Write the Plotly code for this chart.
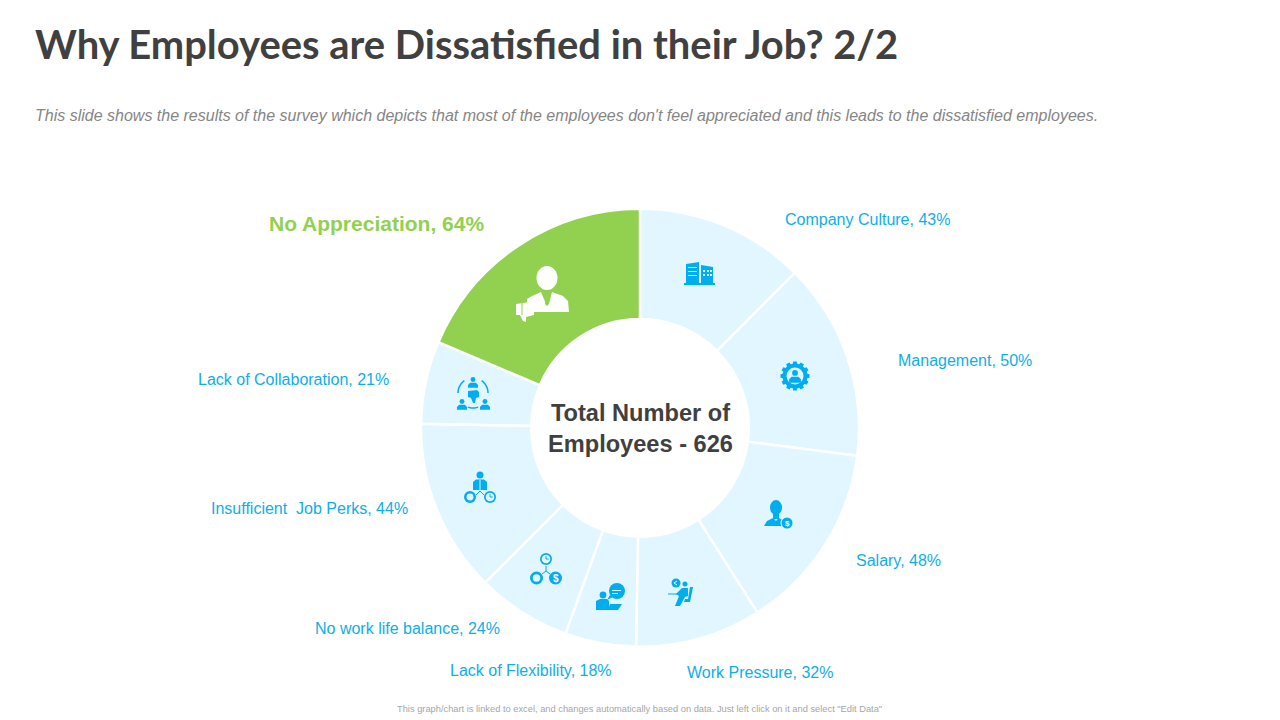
import math
import plotly.graph_objects as go

# survey results, clockwise from 12 o'clock
reasons = ['Company Culture', 'Management', 'Salary', 'Work Pressure', 'Lack of Flexibility',
           'No work life balance', 'Insufficient  Job Perks', 'Lack of Collaboration', 'No Appreciation']
percents = [43, 50, 48, 32, 18, 24, 44, 21, 64]
slice_colors = ['#E1F6FF'] * 8 + ['#92D14F']

title = 'Why Employees are Dissatisfied in their Job? 2/2'
subtitle = ("This slide shows the results of the survey which depicts that most of the employees "
            "don't feel appreciated and this leads to the dissatisfied employees.")
footnote = 'This graph/chart is linked to excel, and changes automatically based on data. Just left click on it and select "Edit Data"'
center_text = '<b>Total Number of<br>Employees - 626</b>'

# label centres in pixels
label_x = [867, 965, 898, 760, 531, 407, 309, 293, 376]
label_y = [219, 360, 560, 672, 670, 628, 508, 379, 223]

W, H = 1280, 720
BLUE = '#00ADEF'
PALE = '#E1F6FF'
GREEN = '#92D14F'
shapes = []
icon_text = []


def px(x):
    return x / W


def py(y):
    return 1 - y / H


def poly(points, color):
    path = 'M ' + ' L '.join(f'{px(x):.5f},{py(y):.5f}' for x, y in points) + ' Z'
    shapes.append(dict(type='path', xref='paper', yref='paper', path=path,
                       fillcolor=color, line=dict(width=0)))


def rect(x0, y0, x1, y1, color):
    poly([(x0, y0), (x1, y0), (x1, y1), (x0, y1)], color)


def ellipse(cx, cy, rx, ry, color):
    shapes.append(dict(type='circle', xref='paper', yref='paper',
                       x0=px(cx - rx), x1=px(cx + rx), y0=py(cy + ry), y1=py(cy - ry),
                       fillcolor=color, line=dict(width=0)))


def circle(cx, cy, r, color):
    ellipse(cx, cy, r, r, color)


def line(x0, y0, x1, y1, color, w=1):
    shapes.append(dict(type='line', xref='paper', yref='paper', x0=px(x0), y0=py(y0),
                       x1=px(x1), y1=py(y1), line=dict(color=color, width=w)))


def arc(cx, cy, r, a0, a1, color, w=1.5):
    # angles in degrees, clockwise from 3 o'clock on screen
    pts = [(cx + r * math.cos(math.radians(a0 + (a1 - a0) * i / 12)),
            cy + r * math.sin(math.radians(a0 + (a1 - a0) * i / 12))) for i in range(13)]
    path = 'M ' + ' L '.join(f'{px(x):.5f},{py(y):.5f}' for x, y in pts)
    shapes.append(dict(type='path', xref='paper', yref='paper', path=path,
                       line=dict(color=color, width=w)))


def ring(cx, cy, r, color=BLUE, back=PALE):
    circle(cx, cy, r, color)
    circle(cx, cy, r * 0.58, back)


def clock(cx, cy, r):
    circle(cx, cy, r, BLUE)
    circle(cx, cy, r * 0.72, PALE)
    line(cx, cy - r * 0.45, cx, cy, BLUE)
    line(cx, cy, cx + r * 0.45, cy, BLUE)


def dollar(cx, cy, r, size):
    circle(cx, cy, r, BLUE)
    icon_text.append(dict(x=px(cx), y=py(cy), xanchor='center', yanchor='middle', showarrow=False,
                          text='<b>$</b>', font=dict(family='Liberation Sans', size=size, color='white')))


def person(cx, top, s, color):
    # small head and shoulders figure
    circle(cx, top + 3.4 * s, 3.4 * s, color)
    poly([(cx - 7 * s, top + 15 * s), (cx - 7 * s, top + 11 * s), (cx - 4 * s, top + 8 * s),
          (cx + 4 * s, top + 8 * s), (cx + 7 * s, top + 11 * s), (cx + 7 * s, top + 15 * s)], color)


# no appreciation
ellipse(547, 278, 10.5, 12, 'white')
poly([(527, 312), (527, 299), (532, 296), (541, 292), (546, 304), (549, 304), (552, 292),
      (563, 296), (568, 301), (569, 312)], 'white')
poly([(516, 304), (530, 302), (534, 305), (534, 315), (526, 317), (526, 322), (523, 321), (520, 315), (516, 315)], 'white')
line(522, 303, 522, 315, GREEN)
poly([(545, 296), (549, 296), (548, 299), (549, 304), (547, 306), (545, 304), (546, 299)], GREEN)

# company culture
poly([(686, 264), (699, 262), (699, 284), (686, 284)], BLUE)
poly([(701, 265), (713, 267), (713, 284), (701, 284)], BLUE)
rect(684, 283, 715, 285, BLUE)
for yy in (267, 271, 275):
    rect(688, yy, 697, yy + 1, PALE)
for yy in (270, 274):
    for xx in (703, 707, 710):
        rect(xx, yy, xx + 2, yy + 2, PALE)

# management gear
for i in range(12):
    a = i * math.pi / 6
    ca, sa = math.cos(a), math.sin(a)
    poly([(795 + 11 * ca - 2.4 * sa, 376 + 11 * sa + 2.4 * ca), (795 + 14.5 * ca - 1.8 * sa, 376 + 14.5 * sa + 1.8 * ca),
          (795 + 14.5 * ca + 1.8 * sa, 376 + 14.5 * sa - 1.8 * ca), (795 + 11 * ca + 2.4 * sa, 376 + 11 * sa - 2.4 * ca)], BLUE)
circle(795, 376, 12.5, BLUE)
circle(795, 376, 8.5, PALE)
person(795, 370, 0.85, BLUE)

# salary
ellipse(776, 507.5, 6, 7.5, BLUE)
poly([(773, 512), (779, 512), (779, 519), (773, 519)], BLUE)
poly([(764, 526), (767, 521), (773, 518), (776, 521), (779, 518), (784, 521), (786, 526)], BLUE)
circle(787, 523, 6.5, PALE)
dollar(787, 523, 5.5, 8)

# work pressure
circle(676, 583, 4.5, BLUE)
line(677, 581, 674, 583, PALE)
line(674, 583, 677, 585, PALE)
circle(685, 584, 2.5, BLUE)
poly([(682, 588), (688, 588), (688, 596), (685, 597), (680, 606), (675, 606), (679, 596), (676, 594)], BLUE)
poly([(690, 587), (693, 587), (690, 602), (684, 602), (685, 599), (688, 599)], BLUE)
line(668, 594, 680, 594, BLUE)

# lack of flexibility
circle(617, 591, 8, BLUE)
poly([(610, 595), (613, 597), (607, 600)], BLUE)
rect(612, 590, 621, 591, PALE)
rect(612, 593, 618, 594, PALE)
circle(603, 595, 3.4, BLUE)
poly([(596, 610), (596, 601), (600, 599), (607, 599), (609, 601), (609, 610)], BLUE)
poly([(610, 604), (622, 604), (618, 610), (608, 610)], BLUE)

# no work life balance
clock(546, 559, 6)
ring(536.5, 578, 6.5)
dollar(555.5, 578, 6.5, 10)
line(546, 566, 546, 571, BLUE)
line(546, 571, 542, 574, BLUE)
line(546, 571, 550, 574, BLUE)

# insufficient job perks
circle(480, 475, 3.5, BLUE)
poly([(473, 490), (473, 482), (476, 479.5), (484, 479.5), (487, 482), (487, 490)], BLUE)
line(480, 480, 480, 490, PALE)
ring(470, 497, 6)
clock(490, 497, 6)
line(480, 491, 476, 495, BLUE)
line(480, 491, 484, 495, BLUE)

# lack of collaboration
person(473, 377, 0.72, BLUE)
person(462, 399, 0.72, BLUE)
person(485, 399, 0.72, BLUE)
poly([(468, 391), (477, 390), (479, 392), (479, 397), (476, 398), (475, 403), (473, 403), (471, 398), (468, 397)], BLUE)
arc(473, 393, 15, 180, 235, BLUE)
arc(473, 393, 15, -55, 0, BLUE)
arc(473, 393, 15, 70, 110, BLUE)

annotations = [
    dict(x=px(33), y=py(43), xanchor='left', yanchor='middle', showarrow=False,
         text=f'<b>{title}</b>', font=dict(family='Lato', size=39.9, color='#404040')),
    dict(x=px(33), y=py(116), xanchor='left', yanchor='middle', showarrow=False,
         text=f'<i>{subtitle}</i>', font=dict(family='Liberation Sans', size=16, color='#868686')),
    dict(x=px(640), y=py(428.5), xanchor='center', yanchor='middle', showarrow=False, align='center',
         text=center_text, font=dict(family='Liberation Sans', size=23.6, color='#404040')),
    dict(x=px(639), y=py(709), xanchor='center', yanchor='middle', showarrow=False,
         text=footnote, font=dict(family='Liberation Sans', size=9.3, color='#A6A6A6')),
]

for name, val, lx, ly in zip(reasons, percents, label_x, label_y):
    txt = f'{name}, {val}%'
    font = dict(family='Liberation Sans', size=16, color='#0FAEE6')
    if name == 'No Appreciation':
        txt = f'<b>{txt}</b>'
        font = dict(family='Liberation Sans', size=21, color=GREEN)
    annotations.append(dict(x=px(lx), y=py(ly), xanchor='center', yanchor='middle',
                            showarrow=False, text=txt, font=font))

fig = go.Figure(go.Pie(
    labels=reasons,
    values=percents,
    sort=False,
    direction='clockwise',
    rotation=0,
    hole=0.497,
    textinfo='none',
    marker=dict(colors=slice_colors, line=dict(color='white', width=2.5)),
    domain=dict(x=[px(421), px(859)], y=[py(647), py(208.5)]),
))

fig.update_layout(
    width=W, height=H,
    margin=dict(l=0, r=0, t=0, b=0),
    paper_bgcolor='white',
    showlegend=False,
    annotations=annotations + icon_text,
    shapes=shapes,
)
# page body has an 8px margin by default, drop it so the slide fills the window
fig.write_html("out.html", post_script="document.body.style.margin='0';",
               config=dict(displayModeBar=False))
